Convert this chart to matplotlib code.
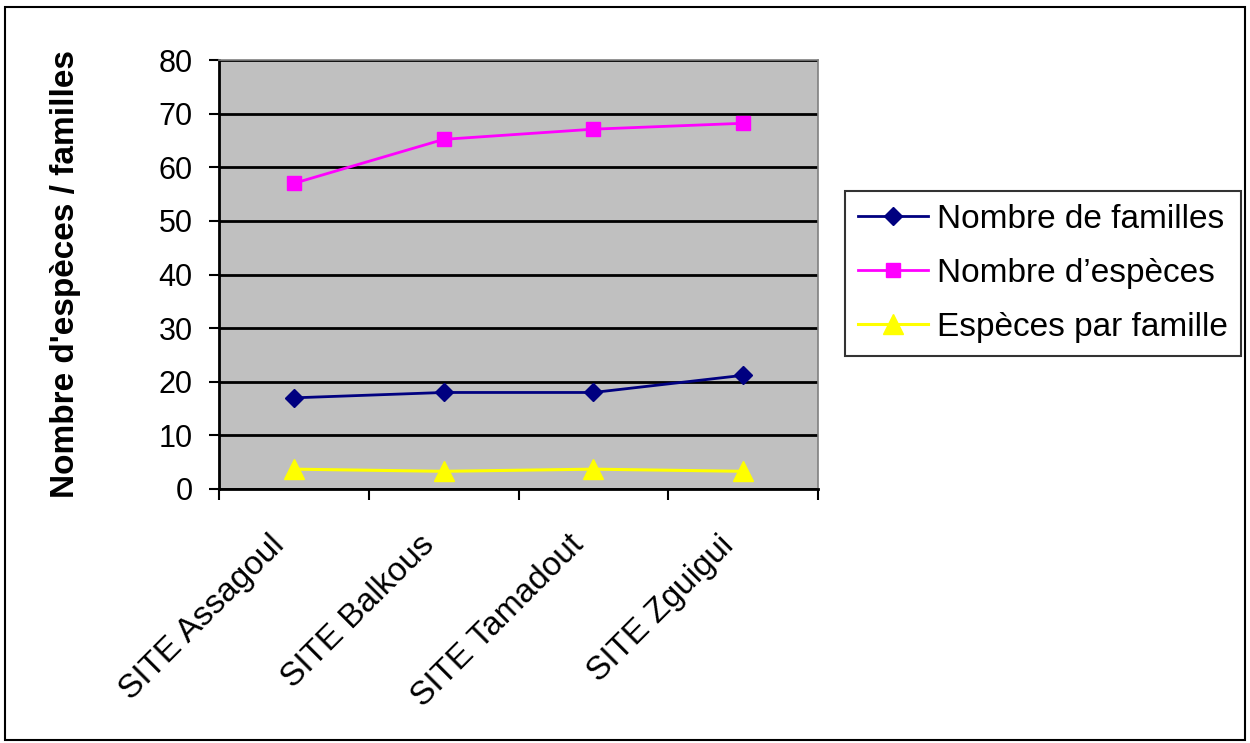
import matplotlib
matplotlib.use("Agg")
import numpy as np
from matplotlib import pyplot as plt
from matplotlib.patches import Rectangle
from matplotlib.transforms import ScaledTranslation

plt.rcParams['font.family'] = ['Liberation Sans', 'DejaVu Sans']

sites = ["SITE Assagoul", "SITE Balkous", "SITE Tamadout", "SITE Zguigui"]
familles = [17, 18, 18, 21.2]
especes = [57, 65.2, 67.1, 68.2]
especes_par_famille = [3.7, 3.3, 3.7, 3.3]

fig = plt.figure(figsize=(12.5, 7.43), dpi=100)
ax = fig.add_axes([219 / 1250, 1 - 489 / 743, (818 - 219) / 1250, (489 - 60) / 743])

# outer frame around the whole chart
fig.patches.append(Rectangle((5 / 1250, 3 / 743), 1240 / 1250, 733 / 743,
                             transform=fig.transFigure, fill=False,
                             edgecolor='black', linewidth=1.5))

ax.set_facecolor('#C0C0C0')
x = np.arange(len(sites)) + 0.5

ax.plot(x, familles, color='#000080', marker='D', markersize=9, linewidth=2,
        label="Nombre de familles", zorder=3)
ax.plot(x, especes, color='#FF00FF', marker='s', markersize=10, linewidth=2,
        label="Nombre d\u2019espèces", zorder=3)
ax.plot(x, especes_par_famille, color='#FFFF00', marker='^', markersize=14, linewidth=2.2,
        label="Espèces par famille", zorder=3)

ax.set_xlim(0, len(sites))
ax.set_ylim(0, 80)
ax.set_yticks(range(0, 81, 10))
ax.yaxis.grid(True, color='black', linewidth=2)
ax.set_axisbelow(True)

# ticks at category boundaries, labels at centers
ax.set_xticks(range(len(sites) + 1))
ax.set_xticklabels([])
ax.set_xticks(x, minor=True)
ax.set_xticklabels(sites, minor=True, rotation=45, ha='right', rotation_mode='anchor',
                   fontsize=24)
ax.tick_params(axis='x', which='minor', length=0, pad=22)
ax.tick_params(axis='x', which='major', length=8, width=1.5, direction='out')
ax.tick_params(axis='y', length=7, width=1.5, labelsize=22, pad=12)

# nudge the rotated labels to sit like the original
shift = ScaledTranslation(-0.25, -0.10, fig.dpi_scale_trans)
for lbl in ax.get_xticklabels(minor=True):
    lbl.set_transform(lbl.get_transform() + shift)

for s in ['left', 'bottom']:
    ax.spines[s].set_color('black')
    ax.spines[s].set_linewidth(2)
for s in ['top', 'right']:
    ax.spines[s].set_color('#808080')
    ax.spines[s].set_linewidth(1.2)

ax.set_ylabel("Nombre d'espèces / familles", fontsize=24, fontweight='bold', labelpad=56)

leg = ax.legend(loc='center left', bbox_to_anchor=(1.045, 0.502), borderaxespad=0,
                fontsize=24, frameon=True, fancybox=False, edgecolor='black',
                handlelength=2.1, handletextpad=0.27, borderpad=0.4, labelspacing=0.69)
leg.get_frame().set_linewidth(1.5)

fig.savefig("out.png", dpi=100)
